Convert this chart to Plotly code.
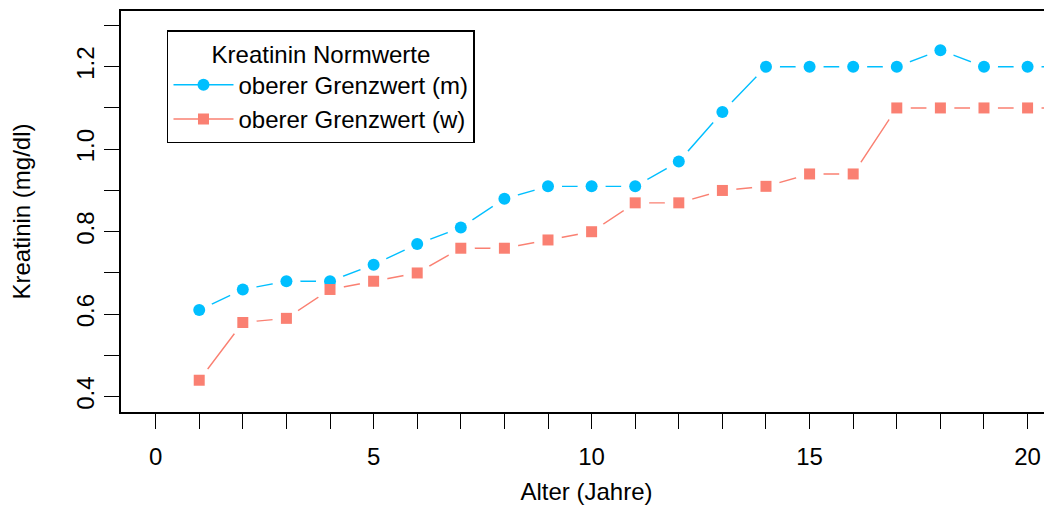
import plotly.graph_objects as go

# ---- data ----
alter = [1, 2, 3, 4, 5, 6, 7, 8, 9, 10, 11, 12, 13, 14, 15, 16, 17, 18, 19, 20, 21]
kreatinin_m = [0.61, 0.66, 0.68, 0.68, 0.72, 0.77, 0.81, 0.88, 0.91, 0.91, 0.91,
               0.97, 1.09, 1.20, 1.20, 1.20, 1.20, 1.24, 1.20, 1.20, 1.20]
kreatinin_w = [0.44, 0.58, 0.59, 0.66, 0.68, 0.70, 0.76, 0.76, 0.78, 0.80, 0.87,
               0.87, 0.90, 0.91, 0.94, 0.94, 1.10, 1.10, 1.10, 1.10, 1.10]
series_names = ["oberer Grenzwert (m)", "oberer Grenzwert (w)"]
legend_title = "Kreatinin Normwerte"
x_tickvals = list(range(0, 21))
x_ticktext = [str(v) if v % 5 == 0 else "" for v in x_tickvals]
y_tickvals = [0.4, 0.5, 0.6, 0.7, 0.8, 0.9, 1.0, 1.1, 1.2, 1.3]
y_ticktext = ["0.4", "", "0.6", "", "0.8", "", "1.0", "", "1.2", ""]

# ---- styles ----
BLUE = "#00BFFF"
SALMON = "#FA8072"
FONT = "Liberation Sans, Arial, sans-serif"
FS = 24

fig = go.Figure()

series = [
    (series_names[0], kreatinin_m, BLUE, "circle", 12),
    (series_names[1], kreatinin_w, SALMON, "square", 11),
]

# lines (with legend entries)
for name, vals, col, sym, sz in series:
    fig.add_trace(go.Scatter(
        x=alter, y=vals, name=name, mode="lines+markers",
        line=dict(color=col, width=1.4),
        marker=dict(color=col, symbol=sym, size=sz),
    ))
# white halos to create the gaps of R's type="b"
for name, vals, col, sym, sz in series:
    fig.add_trace(go.Scatter(
        x=alter, y=vals, mode="markers", showlegend=False, hoverinfo="skip",
        marker=dict(color="white", symbol="circle", size=28),
    ))
# markers on top
for name, vals, col, sym, sz in series:
    fig.add_trace(go.Scatter(
        x=alter, y=vals, mode="markers", showlegend=False, name=name,
        marker=dict(color=col, symbol=sym, size=sz),
    ))

# the page body has an 8px margin, so the figure starts at (8, 8)
fig.update_layout(
    width=1044, height=497,
    margin=dict(l=113, r=0, t=3, b=93),
    paper_bgcolor="white", plot_bgcolor="white",
    font=dict(family=FONT, size=FS, color="black"),
    showlegend=True,
    legend=dict(
        x=0.0494, y=0.9526, xanchor="left", yanchor="top",
        bordercolor="black", borderwidth=1.5, bgcolor="white",
        font=dict(family=FONT, size=FS, color="black"),
        title=dict(text=legend_title, side="top center",
                   font=dict(family=FONT, size=FS, color="black")),
        itemwidth=60,
        entrywidth=309,
    ),
    xaxis=dict(
        range=[-0.794, 20.56],
        tickmode="array", tickvals=x_tickvals, ticktext=x_ticktext,
        ticks="outside", ticklen=15, tickwidth=1.3, tickcolor="black",
        showline=True, linecolor="black", linewidth=1.8, mirror=True,
        showgrid=False, zeroline=False,
        tickfont=dict(family=FONT, size=FS, color="black"),
        title=dict(text="Alter (Jahre)", standoff=16,
                   font=dict(family=FONT, size=FS, color="black")),
        ticklabelstandoff=7,
    ),
    yaxis=dict(
        range=[0.363, 1.335],
        tickmode="array", tickvals=y_tickvals, ticktext=y_ticktext,
        tickangle=-90,
        ticks="outside", ticklen=15, tickwidth=1.3, tickcolor="black",
        showline=True, linecolor="black", linewidth=1.8, mirror=False,
        showgrid=False, zeroline=False,
        tickfont=dict(family=FONT, size=FS, color="black"),
        title=dict(text="Kreatinin (mg/dl)", standoff=35,
                   font=dict(family=FONT, size=FS, color="black")),
        ticklabelstandoff=1,
    ),
)

fig.write_html("out.html")
